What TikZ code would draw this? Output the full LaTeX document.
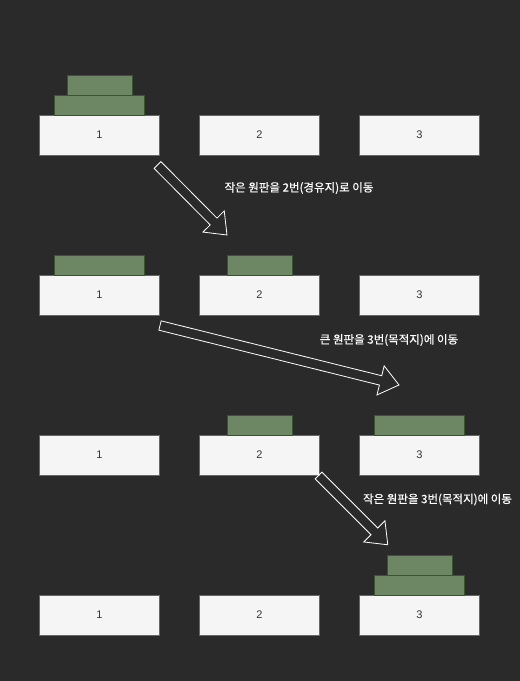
\documentclass[tikz,border=0pt]{standalone}
\usepackage{fontspec}
\setmainfont{Liberation Sans}
\newfontfamily\kr[FakeBold=0.6]{Noto Sans CJK KR}
\usetikzlibrary{calc}
\definecolor{bg}{HTML}{2A2A2A}
\definecolor{boxfill}{HTML}{F5F5F5}
\definecolor{boxline}{HTML}{666666}
\definecolor{diskfill}{HTML}{6D8764}
\definecolor{diskline}{HTML}{3A5431}
\definecolor{txt}{HTML}{333333}
\tikzset{
  peg/.style={draw=boxline, fill=boxfill, line width=0.8pt, minimum width=120pt, minimum height=40pt, inner sep=0pt, text=txt, font=\fontsize{11}{13}\selectfont},
  bigdisk/.style={draw=diskline, fill=diskfill, line width=0.8pt, minimum width=90pt, minimum height=20pt, inner sep=0pt},
  smalldisk/.style={draw=diskline, fill=diskfill, line width=0.8pt, minimum width=65pt, minimum height=20pt, inner sep=0pt},
  lbl/.style={text=white, font=\kr\fontsize{11.5}{13}\selectfont, inner sep=0pt},
  flex/.style={draw=white, line width=0.8pt, line join=miter},
}
\newcommand{\flexarrow}[2]{%
  \draw[flex] let \p1=($(#2)-(#1)$), \n1={atan2(\y1,\x1)}, \n2={veclen(\x1,\y1)} in
    [shift={(#1)}, rotate=\n1]
    (0pt,-4.8pt) -- (\n2-19pt,-4.8pt) -- (\n2-19pt,-15pt) -- (\n2,0pt) -- (\n2-19pt,15pt) -- (\n2-19pt,4.8pt) -- (0pt,4.8pt) -- cycle;}
\begin{document}
\begin{tikzpicture}[x=1pt,y=-1pt]
\fill[bg] (0,0) rectangle (520,681);
\useasboundingbox (0,0) rectangle (520,681);
% row 1
\node[peg] (p11) at (99.5,135) {1};
\node[peg] (p12) at (259.5,135) {2};
\node[peg] (p13) at (419.5,135) {3};
\node[bigdisk] (d1b) at (99.5,105) {};
\node[smalldisk] (d1s) at (99.5,85) {};
% row 2
\node[peg] (p21) at (99.5,295) {1};
\node[peg] (p22) at (259.5,295) {2};
\node[peg] (p23) at (419.5,295) {3};
\node[bigdisk] (d2b) at (99.5,265) {};
\node[smalldisk] (d2s) at (259.5,265) {};
% row 3
\node[peg] (p31) at (99.5,455) {1};
\node[peg] (p32) at (259.5,455) {2};
\node[peg] (p33) at (419.5,455) {3};
\node[smalldisk] (d3s) at (259.5,425) {};
\node[bigdisk] (d3b) at (419.5,425) {};
% row 4
\node[peg] (p41) at (99.5,615) {1};
\node[peg] (p42) at (259.5,615) {2};
\node[peg] (p43) at (419.5,615) {3};
\node[bigdisk] (d4b) at (419.5,585) {};
\node[smalldisk] (d4s) at (419.5,565) {};
% arrows
\coordinate (a1s) at (157.5,165);
\coordinate (a1e) at (227,235);
\coordinate (a2s) at (160,325.5);
\coordinate (a2e) at (399,385);
\coordinate (a3s) at (318.5,475.5);
\coordinate (a3e) at (388,545);
\flexarrow{a1s}{a1e}
\flexarrow{a2s}{a2e}
\flexarrow{a3s}{a3e}
% labels
\node[lbl] (t1) at (299,188) {작은 원판을 2번(경유지)로 이동};
\node[lbl] (t2) at (389,340) {큰 원판을 3번(목적지)에 이동};
\node[lbl] (t3) at (437.5,499.5) {작은 원판을 3번(목적지)에 이동};
\end{tikzpicture}
\end{document}
